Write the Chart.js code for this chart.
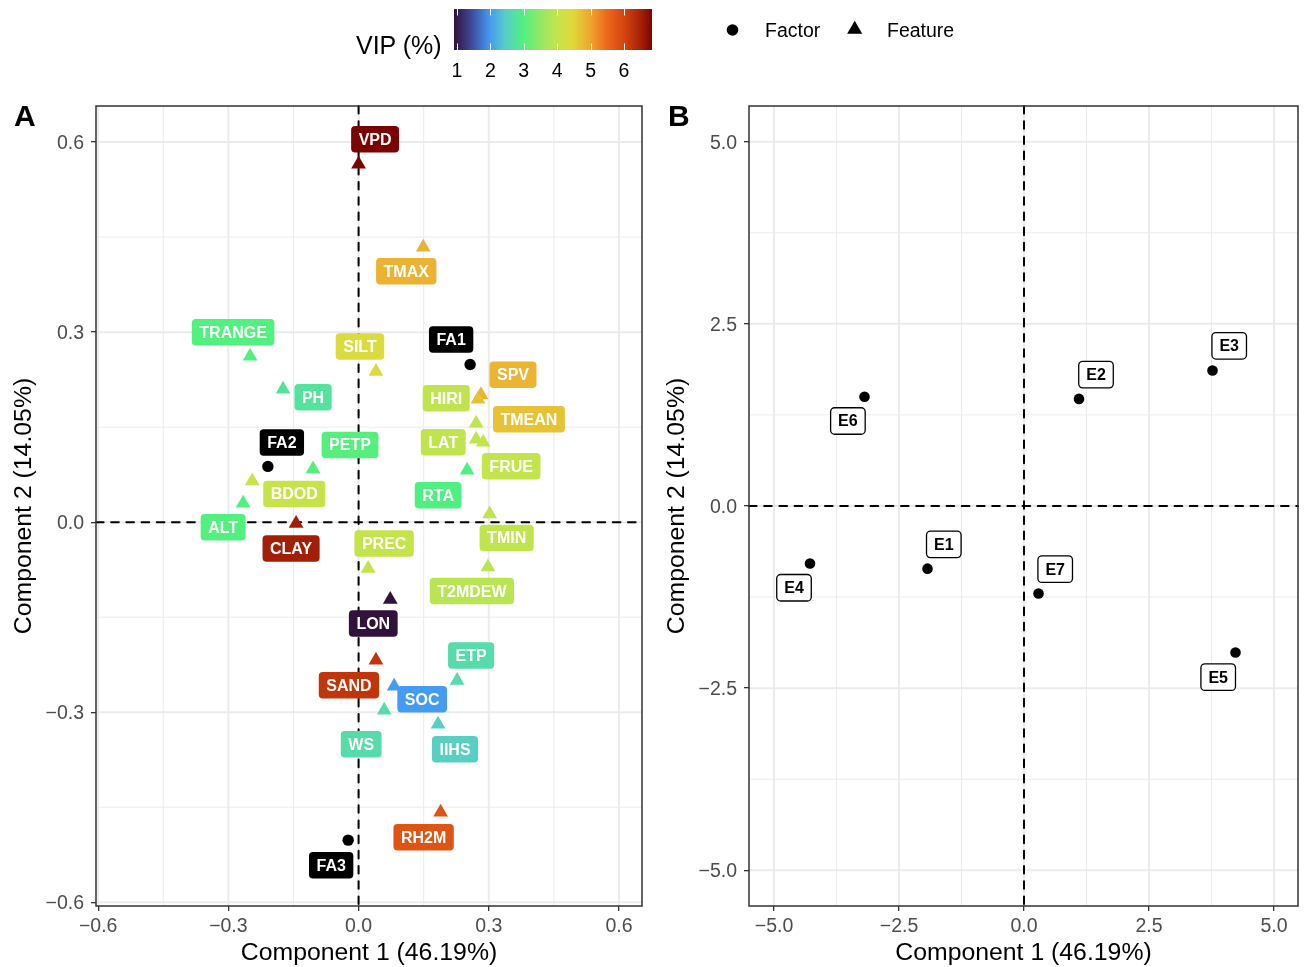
<!DOCTYPE html>
<html>
<head>
<meta charset="utf-8">
<title>PLS loadings and scores</title>
<script src="https://cdn.jsdelivr.net/npm/chart.js@4.4.1/dist/chart.umd.min.js"></script>
<style>
  html, body { margin: 0; padding: 0; background: #fff; }
  body { width: 1306px; height: 967px; position: relative; overflow: hidden;
         font-family: "Liberation Sans", Arial, sans-serif; }
  canvas { position: absolute; top: 0; }
  .txt { position: absolute; white-space: nowrap; color: #000; }
  .tag { font-size: 30px; line-height: 30px; font-weight: bold; }
</style>
</head>
<body>
<canvas id="panelA" width="652" height="967" style="left:0"></canvas>
<canvas id="panelB" width="653" height="967" style="left:653px"></canvas>
<canvas id="legend" width="1306" height="90" style="left:0"></canvas>
<div class="txt tag" style="left:14px;top:101px">A</div>
<div class="txt tag" style="left:668px;top:101px">B</div>
<div class="txt" style="left:356px;top:33px;font-size:25px;line-height:25px">VIP (%)</div>
<div class="txt" style="left:765px;top:20.5px;font-size:19.5px;line-height:19.5px">Factor</div>
<div class="txt" style="left:887px;top:20.5px;font-size:19.5px;line-height:19.5px">Feature</div>

<script>
// ---- data ----
const featureNames = ['VPD', 'TMAX', 'TRANGE', 'SILT', 'PH', 'SPV', 'TMEAN', 'HIRI', 'LAT', 'FRUE',
  'RTA', 'PETP', 'BDOD', 'ALT', 'CLAY', 'TMIN', 'PREC', 'T2MDEW', 'LON', 'SAND',
  'SOC', 'WS', 'ETP', 'IIHS', 'RH2M'];
const featureComp1 = [0.000, 0.149, -0.250, 0.040, -0.174, 0.282, 0.275, 0.271, 0.271, 0.287,
  0.250, -0.105, -0.245, -0.266, -0.144, 0.302, 0.022, 0.298, 0.073, 0.040,
  0.082, 0.059, 0.227, 0.183, 0.189];
const featureComp2 = [0.565, 0.434, 0.262, 0.238, 0.210, 0.201, 0.194, 0.156, 0.131, 0.126,
  0.082, 0.084, 0.065, 0.030, -0.002, 0.013, -0.073, -0.071, -0.122, -0.218,
  -0.259, -0.297, -0.250, -0.319, -0.458];
const featureVIP = [6.84, 4.86, 3.00, 4.35, 2.77, 4.84, 4.69, 3.95, 3.95, 4.00,
  2.97, 3.03, 4.05, 3.00, 6.53, 3.95, 4.00, 3.88, 0.91, 6.22,
  2.00, 2.68, 2.68, 2.48, 5.78];

const factorNames = ['FA1', 'FA2', 'FA3'];
const factorComp1 = [0.257, -0.209, -0.024];
const factorComp2 = [0.249, 0.088, -0.502];

const envNames = ['E1', 'E2', 'E3', 'E4', 'E5', 'E6', 'E7'];
const envComp1 = [-1.93, 1.10, 3.77, -4.28, 4.23, -3.19, 0.29];
const envComp2 = [-0.86, 1.47, 1.86, -0.79, -2.01, 1.50, -1.20];

const ticksA = [-0.6, -0.3, 0, 0.3, 0.6];
const ticksB = [-5, -2.5, 0, 2.5, 5];
const vipTicks = [1, 2, 3, 4, 5, 6];

// ---- colour scale (as on the colour bar) ----
const paletteStops = [
  [0.00, '#30123b'], [0.09, '#3f4a9c'], [0.18, '#4499f2'], [0.26, '#5acdc8'],
  [0.35, '#50f080'], [0.43, '#90e866'], [0.52, '#c4e44c'], [0.60, '#e0d83a'],
  [0.69, '#f0a42e'], [0.77, '#ec6a1c'], [0.86, '#d4440e'], [0.94, '#a82208'],
  [1.00, '#7a0403']
];
const vipMin = Math.min(...featureVIP);
const vipMax = Math.max(...featureVIP);

function rgb(h) {
  return [1, 3, 5].map(i => parseInt(h.slice(i, i + 2), 16));
}
function vipColour(v) {
  const t = Math.max(0, Math.min(1, (v - vipMin) / (vipMax - vipMin)));
  for (let i = 1; i < paletteStops.length; i++) {
    const [t1, c1] = paletteStops[i];
    if (t <= t1) {
      const [t0, c0] = paletteStops[i - 1];
      const f = (t - t0) / (t1 - t0);
      const a = rgb(c0), b = rgb(c1);
      return 'rgb(' + a.map((x, k) => Math.round(x + (b[k] - x) * f)).join(',') + ')';
    }
  }
  return paletteStops[paletteStops.length - 1][1];
}

// label placement (pixel offset from the point, like ggrepel output)
const nudgeA = {
  VPD: [16.5, -25], TMAX: [-17, 24], TRANGE: [-17, -24], SILT: [-16, -25], PH: [30, 8],
  SPV: [32, -20], TMEAN: [51, 20], HIRI: [-30, -25], LAT: [-33, 3], FRUE: [28, 24],
  RTA: [-29, 25], PETP: [37, -24], BDOD: [42, 13], ALT: [-20, 24], CLAY: [-5, 25],
  TMIN: [17, 24], PREC: [16, -25], T2MDEW: [-16, 24], LON: [-17, 24], SAND: [-27, 25],
  SOC: [28, 13], WS: [-23, 34], ETP: [14, -25], IIHS: [17, 25], RH2M: [-17, 25],
  FA1: [-19, -25], FA2: [14, -24], FA3: [-17, 25]
};
const nudgeB = {
  E1: [16.3, -24.3], E2: [17, -24.3], E3: [16.7, -24.7], E4: [-16, 24.2],
  E5: [-17.3, 24.7], E6: [-16.6, 24.3], E7: [16.7, -24.3]
};

Chart.defaults.font.family = '"Liberation Sans", Arial, sans-serif';
Chart.defaults.color = '#4d4d4d';

const fmt = v => (v < 0 ? '\u2212' : '') + Math.abs(v).toFixed(1);
const mids = t => t.slice(1).map((v, i) => (v + t[i]) / 2);

const decor = {
  id: 'decor',
  beforeDatasetsDraw(chart, args, o) {
    const {ctx, chartArea: a, scales: {x, y}} = chart;
    ctx.save();
    ctx.strokeStyle = '#ebebeb';
    const grid = (vals, w) => {
      ctx.lineWidth = w;
      vals.forEach(v => {
        const px = x.getPixelForValue(v), py = y.getPixelForValue(v);
        ctx.beginPath();
        if (px > a.left && px < a.right) { ctx.moveTo(px, a.top); ctx.lineTo(px, a.bottom); }
        if (py > a.top && py < a.bottom) { ctx.moveTo(a.left, py); ctx.lineTo(a.right, py); }
        ctx.stroke();
      });
    };
    grid(mids(o.ticks), 1);
    grid(o.ticks, 2);
    // dashed zero lines
    ctx.strokeStyle = '#000';
    ctx.lineWidth = 2;
    ctx.lineCap = 'round';
    ctx.setLineDash([7.6, 7.6]);
    const x0 = x.getPixelForValue(0), y0 = y.getPixelForValue(0);
    ctx.beginPath();
    ctx.moveTo(a.left, y0); ctx.lineTo(a.right, y0);
    ctx.moveTo(x0, a.top); ctx.lineTo(x0, a.bottom);
    ctx.stroke();
    ctx.restore();
  },
  afterDatasetsDraw(chart, args, o) {
    const ctx = chart.ctx;
    ctx.save();
    ctx.font = 'bold 16px "Liberation Sans", Arial, sans-serif';
    ctx.textAlign = 'center';
    ctx.textBaseline = 'middle';
    chart.data.datasets.forEach((ds, i) => {
      chart.getDatasetMeta(i).data.forEach((pt, j) => {
        const name = ds.names[j];
        const [dx, dy] = o.nudge[name];
        const cx = pt.x + dx, cy = pt.y + dy;
        const w = ctx.measureText(name).width + 15, h = 26.5;
        ctx.beginPath();
        ctx.roundRect(cx - w / 2, cy - h / 2, w, h, 4);
        if (o.boxed) {
          ctx.fillStyle = '#fff'; ctx.fill();
          ctx.lineWidth = 1.3; ctx.strokeStyle = '#000'; ctx.stroke();
          ctx.fillStyle = '#000';
        } else {
          ctx.fillStyle = ds.labelFill[j]; ctx.fill();
          ctx.fillStyle = '#fff';
        }
        ctx.fillText(name, cx, cy + 1);
      });
    });
    ctx.restore();
  },
  afterDraw(chart) {
    const {ctx, chartArea: a} = chart;
    ctx.save();
    ctx.strokeStyle = '#333333';
    ctx.lineWidth = 1.5;
    ctx.strokeRect(a.left, a.top, a.right - a.left, a.bottom - a.top);
    ctx.restore();
  }
};

function axis(range, ticks, title, isX) {
  return {
    type: 'linear',
    min: range[0], max: range[1],
    afterBuildTicks: s => { s.ticks = ticks.map(v => ({value: v})); },
    afterFit: s => { if (isX) s.height = 61; else s.width = 96; },
    grid: {drawOnChartArea: false, drawTicks: true, tickLength: 5, color: '#333333', lineWidth: 1.3},
    border: {display: false},
    ticks: {
      autoSkip: false, maxRotation: 0, color: '#4d4d4d',
      font: {size: 19.5}, padding: isX ? 4 : 7,
      labelOffset: isX ? 0 : 1.5,
      callback: v => fmt(v)
    },
    title: {
      display: true, text: title, color: '#000',
      font: {size: 24.8, lineHeight: 1},
      padding: isX ? {top: 0, bottom: 1.5} : {top: 11.5, bottom: 0}
    }
  };
}

function panel(id, datasets, xr, yr, ticks, nudge, boxed, rightPad) {
  return new Chart(document.getElementById(id), {
    type: 'scatter',
    data: {datasets},
    options: {
      responsive: false, animation: false, devicePixelRatio: 1,
      layout: {padding: {left: 0, right: rightPad, top: 106, bottom: 0}},
      plugins: {legend: {display: false}, tooltip: {enabled: false},
                decor: {ticks, nudge, boxed}},
      scales: {
        x: axis(xr, ticks, 'Component 1 (46.19%)', true),
        y: axis(yr, ticks, 'Component 2 (14.05%)', false)
      }
    },
    plugins: [decor]
  });
}

const featureColours = featureVIP.map(vipColour);

panel('panelA', [
  {
    names: featureNames, labelFill: featureColours,
    data: featureNames.map((n, i) => ({x: featureComp1[i], y: featureComp2[i]})),
    pointStyle: 'triangle', pointRadius: 8.5, pointBorderWidth: 0,
    pointBackgroundColor: featureColours
  },
  {
    names: factorNames, labelFill: factorNames.map(() => '#000'),
    data: factorNames.map((n, i) => ({x: factorComp1[i], y: factorComp2[i]})),
    pointStyle: 'circle', pointRadius: 5.7, pointBorderWidth: 0,
    pointBackgroundColor: '#000'
  }
], [-0.605, 0.653], [-0.606, 0.657], ticksA, nudgeA, false, 10);

panel('panelB', [
  {
    names: envNames,
    data: envNames.map((n, i) => ({x: envComp1[i], y: envComp2[i]})),
    pointStyle: 'circle', pointRadius: 5.3, pointBorderWidth: 0,
    pointBackgroundColor: '#000'
  }
], [-5.5, 5.48], [-5.49, 5.49], ticksB, nudgeB, true, 8);

// ---- legend: colour bar and shape keys ----
(function drawLegend() {
  const ctx = document.getElementById('legend').getContext('2d');
  const bar = {left: 454, right: 652, top: 9, bottom: 50};
  const span = bar.right - bar.left;
  for (let px = 0; px < span; px++) {
    ctx.fillStyle = vipColour(vipMin + (px + 0.5) / span * (vipMax - vipMin));
    ctx.fillRect(bar.left + px, bar.top, 1, bar.bottom - bar.top);
  }
  const vx = v => bar.left + (v - vipMin) / (vipMax - vipMin) * span;
  ctx.strokeStyle = '#fff';
  ctx.lineWidth = 1;
  vipTicks.forEach(v => {
    const x = Math.round(vx(v)) + 0.5;
    ctx.beginPath();
    ctx.moveTo(x, bar.top); ctx.lineTo(x, bar.top + 6.5);
    ctx.moveTo(x, bar.bottom - 6.5); ctx.lineTo(x, bar.bottom);
    ctx.stroke();
    const d = document.createElement('div');
    d.className = 'txt';
    d.style.cssText = 'width:40px;text-align:center;font-size:19.5px;line-height:19.5px;top:60.5px;left:' + (vx(v) - 20) + 'px';
    d.textContent = String(v);
    document.body.appendChild(d);
  });
  ctx.fillStyle = '#000';
  ctx.beginPath();
  ctx.arc(732.5, 30, 5.8, 0, Math.PI * 2);
  ctx.fill();
  const cx = 854.7, cy = 29.4, r = 8.7;
  ctx.beginPath();
  ctx.moveTo(cx, cy - r);
  ctx.lineTo(cx + r * 0.866, cy + r / 2);
  ctx.lineTo(cx - r * 0.866, cy + r / 2);
  ctx.closePath();
  ctx.fill();
})();
</script>
</body>
</html>
